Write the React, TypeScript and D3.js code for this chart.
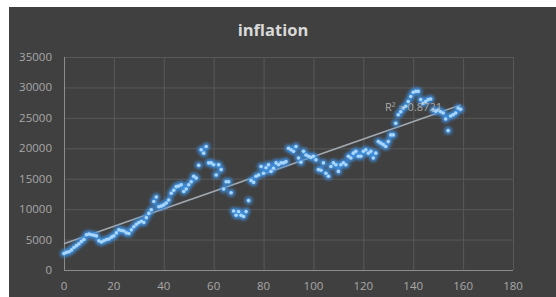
import React, { useEffect, useRef } from 'react'
import * as d3 from 'd3'

// monthly values, index 0..159
const values = [
  2700, 2900, 3000, 3300, 3700, 4000, 4300, 4700, 5000, 5800,
  5900, 5800, 5700, 5600, 4800, 4600, 4800, 5000, 5100, 5400,
  5600, 6100, 6600, 6500, 6400, 6100, 6000, 6600, 7100, 7500,
  7800, 8000, 7800, 8600, 9300, 9900, 11250, 12000, 10400, 10500,
  10700, 11000, 11500, 12600, 13100, 13700, 13800, 14000, 12900, 13300,
  14000, 14500, 15400, 15100, 17200, 19750, 19200, 20300, 17600, 17600,
  17300, 15600, 17300, 16500, 13300, 14500, 14500, 12700, 9700, 9000,
  9600, 9000, 8800, 9600, 11400, 14700, 14400, 15400, 15600, 17000,
  15900, 16800, 17300, 16200, 16700, 17600, 17300, 17600, 17600, 17800,
  20000, 19750, 19500, 20300, 18400, 17700, 19500, 18900, 18700, 18500,
  18700, 18100, 16500, 16400, 17600, 15900, 15400, 17000, 17600, 17300,
  16200, 17300, 17600, 17300, 18700, 18400, 19200, 19500, 18700, 18700,
  19500, 19750, 19200, 19500, 18400, 19200, 21100, 20850, 20600, 20300,
  21100, 22200, 22200, 24100, 25500, 26000, 26600, 26900, 27700, 28500,
  29200, 29350, 29350, 28000, 27400, 27700, 28000, 28100, 26300, 26100,
  26300, 26000, 25800, 24800, 22900, 25300, 25500, 25800, 26600, 26400
]
const xTicks = [0, 20, 40, 60, 80, 100, 120, 140, 160, 180]
const yTicks = [0, 5000, 10000, 15000, 20000, 25000, 30000, 35000]
const title = 'inflation'
const r2Label = 'R² = 0.8721'

function Chart() {
  const ref = useRef<SVGSVGElement>(null)

  useEffect(() => {
    document.body.style.margin = '0'
    const width = 556,
      height = 297
    const svg = d3.select(ref.current)
    svg.selectAll('*').remove()

    const font = "'Open Sans', 'DejaVu Sans', sans-serif"
    const left = 64,
      right = 513,
      top = 57,
      bottom = 270

    svg.append('rect').attr('width', width).attr('height', height).attr('fill', '#ffffff')
    svg
      .append('rect')
      .attr('x', 9)
      .attr('y', 7)
      .attr('width', width - 9)
      .attr('height', height - 7)
      .attr('fill', '#404040')

    const defs = svg.append('defs')
    defs
      .append('filter')
      .attr('id', 'glow')
      .attr('x', '-100%')
      .attr('y', '-100%')
      .attr('width', '300%')
      .attr('height', '300%')
      .append('feGaussianBlur')
      .attr('stdDeviation', 1.8)

    const x = d3.scaleLinear().domain([0, 180]).range([left, right])
    const y = d3.scaleLinear().domain([0, 35000]).range([bottom, top])

    // grid
    const grid = svg.append('g')
    grid
      .selectAll('.hg')
      .data(yTicks)
      .enter()
      .append('line')
      .attr('x1', left)
      .attr('x2', right)
      .attr('y1', (d) => y(d) + 0.5)
      .attr('y2', (d) => y(d) + 0.5)
      .attr('stroke', (d) => (d === 0 ? '#8c8c8c' : '#585858'))
      .attr('stroke-width', 1)
    grid
      .selectAll('.vg')
      .data(xTicks)
      .enter()
      .append('line')
      .attr('x1', (d) => x(d) + 0.5)
      .attr('x2', (d) => x(d) + 0.5)
      .attr('y1', top)
      .attr('y2', bottom)
      .attr('stroke', (d) => (d === 0 ? '#8c8c8c' : '#585858'))
      .attr('stroke-width', 1)

    // tick labels
    svg
      .append('g')
      .selectAll('text')
      .data(yTicks)
      .enter()
      .append('text')
      .attr('x', 52)
      .attr('y', (d) => y(d) + 4)
      .attr('text-anchor', 'end')
      .attr('font-family', font)
      .attr('font-size', 11.5)
      .attr('fill', '#a8a8a8')
      .text((d) => d)
    svg
      .append('g')
      .selectAll('text')
      .data(xTicks)
      .enter()
      .append('text')
      .attr('x', (d) => x(d))
      .attr('y', 290)
      .attr('text-anchor', 'middle')
      .attr('font-family', font)
      .attr('font-size', 11.5)
      .attr('fill', '#a8a8a8')
      .text((d) => d)

    // title
    svg
      .append('text')
      .attr('x', 273)
      .attr('y', 36)
      .attr('text-anchor', 'middle')
      .attr('font-family', font)
      .attr('font-weight', 'bold')
      .attr('font-size', 16.5)
      .attr('fill', '#d9d9d9')
      .text(title)

    const pts = values.map((v, i) => ({ i, v }))

    // linear trendline
    const n = pts.length
    const mx = d3.mean(pts, (d) => d.i) as number
    const my = d3.mean(pts, (d) => d.v) as number
    const sxy = d3.sum(pts, (d) => (d.i - mx) * (d.v - my))
    const sxx = d3.sum(pts, (d) => (d.i - mx) * (d.i - mx))
    const slope = sxy / sxx
    const icept = my - slope * mx
    const line = d3
      .line<number>()
      .x((d) => x(d))
      .y((d) => y(icept + slope * d))
    svg
      .append('path')
      .attr('d', line([0, n - 1]))
      .attr('stroke', '#a0a8b0')
      .attr('stroke-width', 1.6)
      .attr('fill', 'none')

    // glowing dots
    svg
      .append('g')
      .attr('filter', 'url(#glow)')
      .selectAll('circle')
      .data(pts)
      .enter()
      .append('circle')
      .attr('cx', (d) => x(d.i))
      .attr('cy', (d) => y(d.v))
      .attr('r', 3.8)
      .attr('fill', '#3d8fe0')
      .attr('opacity', 0.9)
    svg
      .append('g')
      .selectAll('circle')
      .data(pts)
      .enter()
      .append('circle')
      .attr('cx', (d) => x(d.i))
      .attr('cy', (d) => y(d.v))
      .attr('r', 1.8)
      .attr('fill', '#a9d6fb')

    svg
      .append('text')
      .attr('x', 385)
      .attr('y', 111)
      .attr('font-family', font)
      .attr('font-size', 11)
      .attr('fill', '#a8a8a8')
      .text(r2Label)
  }, [])

  return <svg ref={ref} width={556} height={297} style={{ display: 'block' }} />
}

export default function App() {
  return <Chart />
}
